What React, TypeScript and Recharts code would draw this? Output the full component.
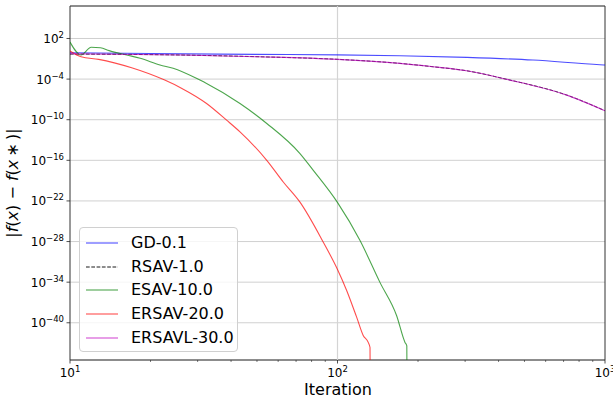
import React from "react";
import {CartesianGrid, Legend, Line, LineChart, ReferenceArea, ReferenceLine, XAxis, YAxis} from "recharts";

// values; 1e-60 marks the point where the error hits 0 (drawn off the bottom)
const UNDERFLOW = 1e-60;

const gdIter = [10, 20, 50, 100, 171, 304, 538, 957, 1000];
const gdVals = [0.8, 0.6, 0.45, 0.38, 0.28, 0.16, 0.065, 0.013, 0.012];

const rsavIter = [10, 26, 51, 100, 171, 228, 304, 430, 720, 1000];
const rsavVals = [0.5, 0.36, 0.2, 0.083, 0.021, 6.6e-3, 1.7e-3, 9.1e-5, 4.3e-7, 2.1e-9];

const esavIter = [10, 11, 12, 13, 14, 16.3, 18.3, 21.7, 24.3, 30.6, 32.4, 43.2, 54.4, 72.4, 81.2, 99.8, 121.4,
  144.1, 166.4, 178.8, 181.6, 182.5];
const esavVals = [30, 0.36, 5, 4.3, 1.6, 0.36, 0.12, 1.2e-2, 3.9e-3, 7.1e-5, 2.3e-5, 2.5e-8, 2.8e-11, 1e-15,
  3.3e-18, 6.6e-23, 1.4e-28, 9.3e-35, 1.1e-39, 1.26e-43, 4e-44, UNDERFLOW];

const ersavIter = [10, 11, 12.8, 17, 22.6, 26.2, 32.4, 38.5, 43.2, 54.4, 62.7, 72.4, 88.5, 99.8, 108.3, 118, 124.9,
  130.3, 132.3, 133];
const ersavVals = [1.4, 0.2, 0.083, 4.7e-3, 7.1e-5, 4.2e-6, 2.5e-8, 8.5e-11, 1.6e-12, 1e-16, 6.3e-20, 6.6e-23,
  7.9e-29, 8.9e-33, 5.5e-36, 6.3e-40, 1.26e-42, 1.26e-43, 2.2e-44, UNDERFLOW];

const ersavlIter = [10, 26, 51, 100, 171, 228, 304, 430, 720, 1000];
const ersavlVals = [0.55, 0.36, 0.2, 0.083, 0.021, 6.6e-3, 1.7e-3, 9.1e-5, 4.3e-7, 2.1e-9];

const xTicks = [10, 20, 30, 40, 50, 60, 70, 80, 90, 100, 200, 300, 400, 500, 600, 700, 800, 900, 1000];
const yTicks = [1e2, 1e-4, 1e-10, 1e-16, 1e-22, 1e-28, 1e-34, 1e-40];
const yDomain = [Math.pow(10, -45.5), Math.pow(10, 6.8)];

const toPoints = (its: number[], vals: number[]) => its.map((it, i) => ({it, v: vals[i]}));

const series = [
  {name: "GD-0.1", color: "#0000ff", dash: undefined as string | undefined, data: toPoints(gdIter, gdVals)},
  {name: "RSAV-1.0", color: "#000000", dash: "3.7 1.6", data: toPoints(rsavIter, rsavVals)},
  {name: "ESAV-10.0", color: "#008000", dash: undefined, data: toPoints(esavIter, esavVals)},
  {name: "ERSAV-20.0", color: "#ff0000", dash: undefined, data: toPoints(ersavIter, ersavVals)},
  {name: "ERSAVL-30.0", color: "#bf00bf", dash: undefined, data: toPoints(ersavlIter, ersavlVals)},
];

const FONT = "DejaVu Sans";

const expLabel = (v: number) => {
  const e = Math.round(Math.log10(v));
  return e < 0 ? "\u2212" + Math.abs(e) : String(e);
};

function XTick(props: any) {
  const {x, y, payload} = props;
  const lg = Math.log10(payload.value);
  const major = Math.abs(lg - Math.round(lg)) < 1e-9;
  if (!major) {
    return <line x1={x} x2={x} y1={y} y2={y + 2} stroke="#222" strokeWidth={0.6}/>;
  }
  return (
    <g>
      <line x1={x} x2={x} y1={y} y2={y + 3.5} stroke="#222" strokeWidth={0.8}/>
      <text x={x} y={y + 17} textAnchor="middle" fontSize={12} fontFamily={FONT} fill="#000">
        10<tspan dy={-5} fontSize={8.5}>{expLabel(payload.value)}</tspan>
      </text>
    </g>
  );
}

function YTick(props: any) {
  const {x, y, payload} = props;
  return (
    <g>
      <line x1={x - 3.5} x2={x} y1={y} y2={y} stroke="#222" strokeWidth={0.8}/>
      <text x={x - 6} y={y + 4.5} textAnchor="end" fontSize={12} fontFamily={FONT} fill="#000">
        10<tspan dy={-5} fontSize={8.5}>{expLabel(payload.value)}</tspan>
      </text>
    </g>
  );
}

function YTitle() {
  return (
    <text x={18} y={183} transform="rotate(-90, 18, 183)" textAnchor="middle" fontSize={16} fontFamily={FONT}
          fill="#000">
      |<tspan fontStyle="italic">f</tspan>(<tspan fontStyle="italic">x</tspan>) {"\u2212"} <tspan
      fontStyle="italic">f</tspan>(<tspan fontStyle="italic">x</tspan>{"\u2009\u2217\u2009"})|
    </text>
  );
}

function XTitle() {
  return (
    <text x={338} y={395} textAnchor="middle" fontSize={16} fontFamily={FONT} fill="#000">Iteration</text>
  );
}

function LegendBox() {
  return (
    <div style={{
      width: 159, height: 125, boxSizing: "border-box", border: "1px solid #d0d0d0", borderRadius: 4,
      background: "rgba(255,255,255,0.8)", paddingTop: 3, fontFamily: FONT, fontSize: 16, color: "#000"
    }}>
      {series.map((s) => (
        <div key={s.name} style={{height: 23.7, display: "flex", alignItems: "center"}}>
          <svg width={51} height={10} style={{flex: "none"}}>
            <line x1={6} x2={38} y1={5} y2={5} stroke={s.color} strokeOpacity={s.dash ? 1 : 0.55}
                  strokeWidth={s.dash ? 0.9 : 1.4} strokeDasharray={s.dash}/>
          </svg>
          <span style={{whiteSpace: "nowrap", lineHeight: "16px"}}>{s.name}</span>
        </div>
      ))}
    </div>
  );
}

export default function App() {
  return (
    <div style={{position: "absolute", left: 0, top: 0, background: "#fff"}}>
      <LineChart width={613} height={401} margin={{top: 6, right: 8, bottom: 0, left: 0}}>
        <CartesianGrid vertical={false} stroke="#cbcbcb" strokeWidth={0.9}/>
        <ReferenceLine x={100} stroke="#d4d4d4" strokeWidth={1.2} ifOverflow="visible"/>
        <XAxis dataKey="it" type="number" scale="log" domain={[10, 1000]} ticks={xTicks} allowDataOverflow
               height={41} tickSize={0} tickMargin={0} tick={<XTick/>} axisLine={false} interval={0}
               label={<XTitle/>}/>
        <YAxis type="number" scale="log" domain={yDomain} ticks={yTicks} allowDataOverflow width={70}
               tickSize={0} tickMargin={0} tick={<YTick/>} axisLine={false} interval={0} label={<YTitle/>}/>
        {series.map((s) => (
          <Line key={s.name} data={s.data} dataKey="v" name={s.name} type="monotone" stroke={s.color}
                strokeOpacity={s.dash ? 0.9 : 0.7} strokeWidth={s.dash ? 0.9 : 1.1} strokeDasharray={s.dash}
                dot={false} activeDot={false} isAnimationActive={false}/>
        ))}
        <ReferenceArea x1={10} x2={1000} y1={yDomain[0]} y2={yDomain[1]} fill="none" stroke="#333"
                       strokeWidth={1} ifOverflow="visible"/>
        <Legend layout="vertical" align="center" verticalAlign="middle"
                wrapperStyle={{left: 79, top: 227, width: 159, height: 125}} content={() => <LegendBox/>}/>
      </LineChart>
    </div>
  );
}
